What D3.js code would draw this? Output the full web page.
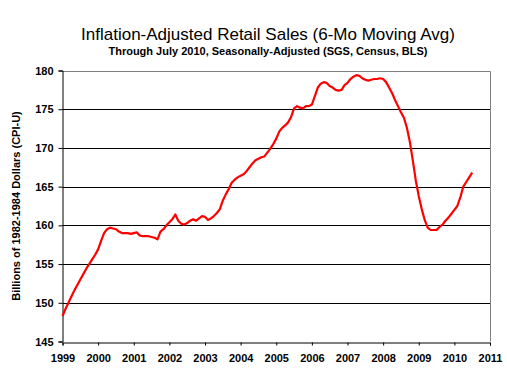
<!DOCTYPE html>
<html><head><meta charset="utf-8">
<script src="https://cdn.jsdelivr.net/npm/d3@7"></script>
<style>body{margin:0;background:#fff}svg{display:block}</style>
</head><body>
<svg id="c" width="507" height="382"></svg>
<script>
const title = "Inflation-Adjusted Retail Sales (6-Mo Moving Avg)";
const subtitle = "Through July 2010, Seasonally-Adjusted (SGS, Census, BLS)";
const yTitle = "Billions of 1982-1984 Dollars (CPI-U)";
const startYear = 1999, startMonth = 0; // Jan 1999, monthly
const xTickYears = [1999,2000,2001,2002,2003,2004,2005,2006,2007,2008,2009,2010,2011];
const yTicks = [145,150,155,160,165,170,175,180];
const sales = [
148.3,149.2,150.0,150.8,151.6,152.3,153.0,153.7,154.4,155.0,155.6,156.2,
156.9,158.0,159.0,159.5,159.7,159.6,159.5,159.2,159.0,159.0,159.0,158.9,
159.0,159.1,158.7,158.6,158.6,158.6,158.5,158.4,158.2,159.2,159.5,160.0,
160.4,160.8,161.4,160.6,160.2,160.1,160.3,160.6,160.8,160.6,160.9,161.2,
161.1,160.7,160.9,161.2,161.6,162.1,163.2,164.0,164.7,165.5,165.9,166.2,
166.4,166.6,167.0,167.5,168.0,168.4,168.6,168.8,168.9,169.4,169.9,170.5,
171.2,172.1,172.6,172.9,173.3,174.0,175.1,175.4,175.2,175.1,175.4,175.4,
175.6,176.7,177.8,178.3,178.5,178.4,178.0,177.8,177.5,177.4,177.5,178.1,
178.4,178.9,179.2,179.4,179.3,179.0,178.8,178.7,178.8,178.9,178.9,179.0,
178.9,178.5,177.8,177.1,176.2,175.4,174.6,173.9,172.6,170.8,168.4,165.8,
163.8,162.1,160.7,159.7,159.4,159.4,159.4,159.8,160.1,160.6,161.0,161.5,
162.0,162.5,163.6,165.0,165.6,166.2,166.8
];

const svg = d3.select("#c");
const m = {l:62.5, r:490, t:70.5, b:341.5};
const x = d3.scaleLinear().domain([1999, 2011]).range([m.l, m.r]);
const y = d3.scaleLinear().domain([145, 180]).range([m.b, m.t]);
const data = sales.map((v,i)=>({t: startYear + (startMonth + i)/12, v}));
const font = "'Liberation Sans', Arial, sans-serif";

// gridlines
svg.append("g").selectAll("line").data(yTicks.filter(d=>d>145 && d<180)).join("line")
  .attr("x1", m.l).attr("x2", m.r).attr("y1", d=>Math.round(y(d))+0.5).attr("y2", d=>Math.round(y(d))+0.5)
  .attr("stroke","#000").attr("stroke-width",1);
// plot border top/right gray
svg.append("path").attr("d",`M${m.l},${Math.round(y(180))+0.5}H${m.r+0.5}V${m.b}`)
  .attr("fill","none").attr("stroke","#808080").attr("stroke-width",1);

// axes
const fmt = d3.format("d");
const yAxis = svg.append("g").attr("transform",`translate(${m.l},0)`)
  .call(d3.axisLeft(y).tickValues(yTicks).tickFormat(fmt).tickSize(4).tickPadding(5));
const xAxis = svg.append("g").attr("transform",`translate(0,${Math.round(m.b)+0.5})`)
  .call(d3.axisBottom(x).tickValues(xTickYears).tickFormat(fmt).tickSize(3).tickPadding(9));
[yAxis,xAxis].forEach(a=>{
  a.select(".domain").attr("stroke","#000");
  a.selectAll(".tick line").attr("stroke","#000");
  a.selectAll("text").attr("fill","#000").style("font-family",font)
   .style("font-size","11px").style("font-weight","bold");
});

// line
svg.append("path").datum(data)
  .attr("d", d3.line().x(d=>x(d.t)).y(d=>y(d.v)))
  .attr("fill","none").attr("stroke","#ff0000").attr("stroke-width",2.2).attr("stroke-linejoin","round");

// titles
svg.append("text").attr("x",268).attr("y",40).attr("text-anchor","middle")
  .style("font-family",font).style("font-size","17px")
  .text(title);
svg.append("text").attr("x",268).attr("y",55).attr("text-anchor","middle")
  .style("font-family",font).style("font-size","11px").style("font-weight","bold")
  .text(subtitle);
svg.append("text").attr("transform",`translate(20,${(m.t+m.b)/2}) rotate(-90)`).attr("text-anchor","middle")
  .style("font-family",font).style("font-size","11px").style("font-weight","bold")
  .text(yTitle);
</script>
</body></html>
